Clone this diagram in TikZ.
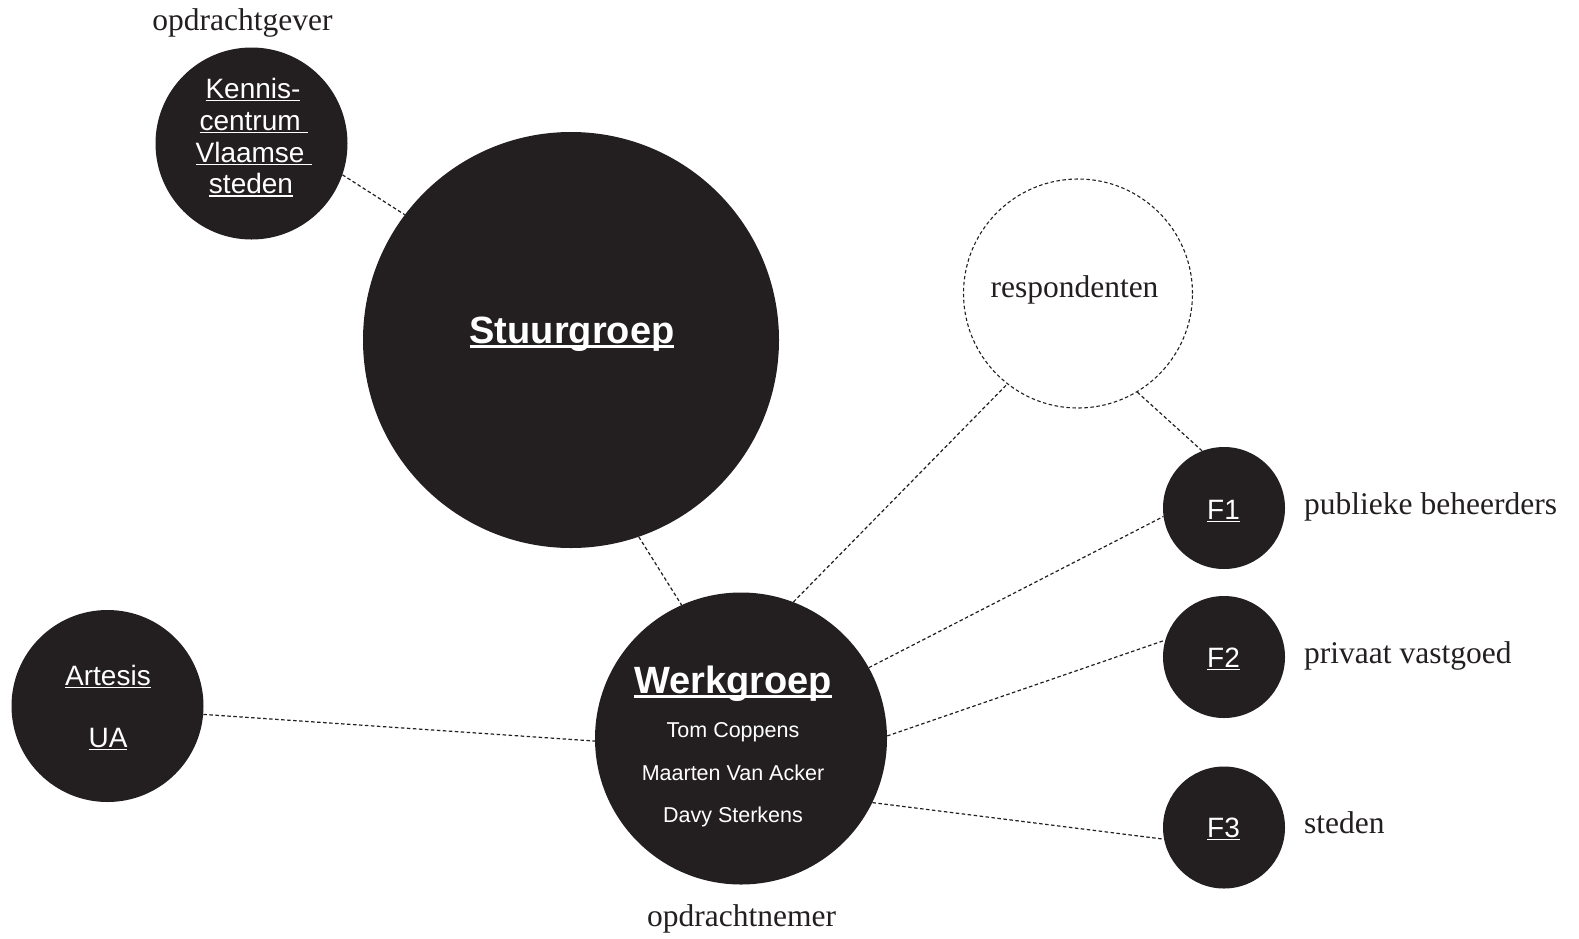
\documentclass[tikz,border=0pt]{standalone}
\usepackage{fontspec}
\setmainfont{Liberation Serif}
\newfontfamily\sansf{Liberation Sans}
\definecolor{ink}{HTML}{231F20}
\newcommand\uln[1]{\setbox0=\hbox{#1}\rlap{\rule[-0.12em]{\wd0}{0.055em}}\box0}
\tikzset{
  blob/.style={circle, fill=ink, draw=none, inner sep=0pt, minimum size=#1},
  ring/.style={circle, draw=ink, line width=1.1pt, dash pattern=on 3.5pt off 2.5pt, inner sep=0pt, minimum size=#1},
  conn/.style={draw=ink, line width=1.2pt, dash pattern=on 3.5pt off 2.5pt},
  wtxt/.style={inner sep=0pt, anchor=base, text=white, font=\sansf\fontsize{#1}{#1}\selectfont},
  wbold/.style={inner sep=0pt, anchor=base, text=white, font=\sansf\bfseries\fontsize{#1}{#1}\selectfont},
  serif/.style={inner sep=0pt, text=ink, font=\fontsize{31.5}{34}\selectfont},
}
\begin{document}
\begin{tikzpicture}[x=1pt, y=-1pt]
\useasboundingbox (0,0) rectangle (1579,938);
\fill[white] (0,0) rectangle (1579,938);

% circles
\node[blob=192pt] (kennis) at (251.5,143.5) {};
\node[blob=416pt] (stuur) at (571,340) {};
\node[blob=292pt] (werk) at (741,738.5) {};
\node[blob=192pt] (artesis) at (107.5,706) {};
\node[ring=229pt] (resp) at (1078,293.5) {};
\node[blob=122pt] (f1) at (1224,508) {};
\node[blob=122pt] (f2) at (1224,657) {};
\node[blob=122pt] (f3) at (1224,827.5) {};

% connectors
\draw[conn] (kennis.-19.6) -- (stuur.143.8);
\draw[conn] (stuur.-71.3) -- (werk.114.4);
\draw[conn] (werk.69.4) -- (resp.-128);
\draw[conn] (resp.-59.1) -- (f1.111.7);
\draw[conn] (werk.29) -- (f1.188.2);
\draw[conn] (werk.1.4) -- (f2.164.6);
\draw[conn] (werk.-26.8) -- (f3.191.1);
\draw[conn] (artesis.-5.4) -- (werk.181.6);

% texts in circles
\node[wtxt=28] (k1) at (253,98) {\uln{Kennis-}};
\node[wtxt=28] (k2) at (254,130) {\uln{centrum\ }};
\node[wtxt=28] (k3) at (254,162) {\uln{Vlaamse\ }};
\node[wtxt=28] (k4) at (251,193.5) {\uln{steden}};
\node[wbold=38] (stxt) at (572,343) {\uln{Stuurgroep}};
\node[wbold=38] (wtitle) at (733,693) {\uln{Werkgroep}};
\node[wtxt=21.5] (w1) at (733,737) {Tom Coppens};
\node[wtxt=21.5] (w2) at (733,780) {Maarten Van Acker};
\node[wtxt=21.5] (w3) at (733,822) {Davy Sterkens};
\node[wtxt=28] (a1) at (108,685) {\uln{Artesis}};
\node[wtxt=28] (a2) at (108,747) {\uln{UA}};
\node[wtxt=28] (f1t) at (1223.5,519) {\uln{F1}};
\node[wtxt=28] (f2t) at (1223.5,667) {\uln{F2}};
\node[wtxt=28] (f3t) at (1223.5,837) {\uln{F3}};

% serif labels
\node[serif, anchor=base] (lgever) at (242.5,30) {opdrachtgever};
\node[serif, anchor=base] (lnemer) at (741.5,926) {opdrachtnemer};
\node[serif, anchor=base] (lresp) at (1074.5,297) {respondenten};
\node[serif, anchor=base west] (lpub) at (1304,514) {publieke beheerders};
\node[serif, anchor=base west] (lpriv) at (1304,663) {privaat vastgoed};
\node[serif, anchor=base west] (lsted) at (1304,833) {steden};
\end{tikzpicture}
\end{document}
